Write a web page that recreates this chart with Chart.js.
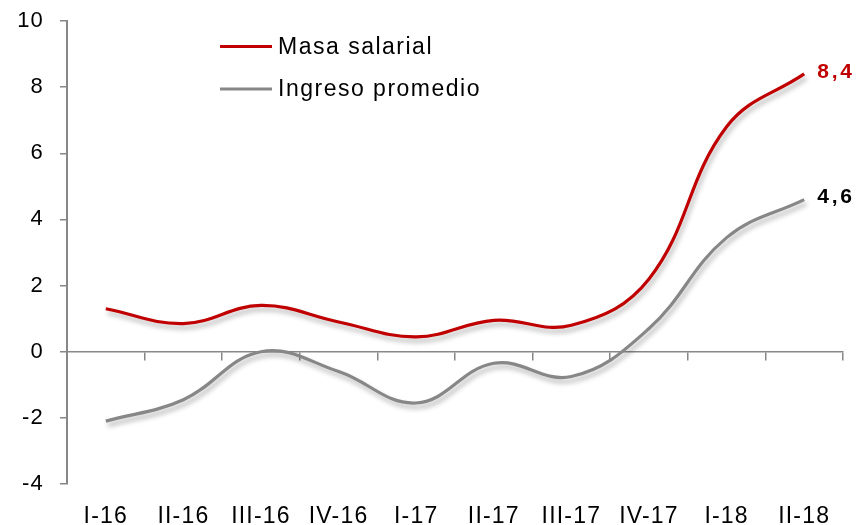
<!DOCTYPE html>
<html>
<head>
<meta charset="utf-8">
<script src="https://cdn.jsdelivr.net/npm/chart.js@4"></script>
<style>
  html, body { margin: 0; padding: 0; background: #fff; }
  #wrap { width: 859px; height: 525px; }
</style>
</head>
<body>
<div id="wrap"><canvas id="chart"></canvas></div>
<script>
const quarters = ['I-16', 'II-16', 'III-16', 'IV-16', 'I-17', 'II-17', 'III-17', 'IV-17', 'I-18', 'II-18'];
const masaSalarial = [1.3, 0.85, 1.4, 0.9, 0.45, 0.95, 0.8, 2.2, 6.8, 8.4];
const ingresoPromedio = [-2.1, -1.45, 0.0, -0.6, -1.55, -0.35, -0.75, 0.7, 3.45, 4.6];
const yTicks = [-4, -2, 0, 2, 4, 6, 8, 10];

const FONT = '"Liberation Sans", Arial, sans-serif';
const AXIS_GREY = '#878787';

// Excel text is a bit spread out, so widen the letters for the axis labels
const spacing = {
  id: 'spacing',
  beforeUpdate(chart) { chart.ctx.letterSpacing = '1.2px'; },
  beforeDraw(chart) { chart.ctx.letterSpacing = '1.2px'; }
};

// soft drop shadow under each line, like the Excel original
const shadowPlugin = {
  id: 'lineShadow',
  beforeDatasetDraw(chart) {
    const ctx = chart.ctx;
    ctx.save();
    ctx.shadowColor = 'rgba(0,0,0,0.3)';
    ctx.shadowBlur = 5;
    ctx.shadowOffsetX = 2;
    ctx.shadowOffsetY = 4;
  },
  afterDatasetDraw(chart) {
    chart.ctx.restore();
  }
};

// legend drawn inside the plot, top left
const innerLegend = {
  id: 'innerLegend',
  afterDraw(chart) {
    const ctx = chart.ctx;
    ctx.save();
    ctx.font = '23px ' + FONT;
    ctx.letterSpacing = '1.5px';
    ctx.textBaseline = 'middle';
    chart.data.datasets.forEach((ds, i) => {
      const y = 46.5 + i * 42.5;
      ctx.strokeStyle = ds.borderColor;
      ctx.lineWidth = 3;
      ctx.beginPath();
      ctx.moveTo(220, y);
      ctx.lineTo(272, y);
      ctx.stroke();
      ctx.fillStyle = '#000';
      ctx.fillText(ds.label, 278, y + 1);
    });
    ctx.restore();
  }
};

// value label next to the last point of each series
const lastValue = {
  id: 'lastValue',
  afterDatasetsDraw(chart) {
    const ctx = chart.ctx;
    ctx.save();
    ctx.font = 'bold 21px ' + FONT;
    ctx.letterSpacing = '2.8px';
    ctx.textBaseline = 'middle';
    chart.data.datasets.forEach((ds, i) => {
      const meta = chart.getDatasetMeta(i);
      const pt = meta.data[meta.data.length - 1];
      const v = ds.data[ds.data.length - 1];
      ctx.fillStyle = ds.labelColor;
      ctx.fillText(v.toFixed(1).replace('.', ','), pt.x + 13, pt.y - 2);
    });
    ctx.restore();
  }
};

new Chart(document.getElementById('chart'), {
  type: 'line',
  data: {
    labels: quarters,
    datasets: [
      {
        label: 'Masa salarial',
        data: masaSalarial,
        borderColor: '#C00000',
        labelColor: '#C00000',
        borderWidth: 3.2,
        pointRadius: 0,
        tension: 0.4,
        xAxisID: 'x'
      },
      {
        label: 'Ingreso promedio',
        data: ingresoPromedio,
        borderColor: '#878787',
        labelColor: '#000000',
        borderWidth: 3.2,
        pointRadius: 0,
        tension: 0.4,
        xAxisID: 'x'
      }
    ]
  },
  options: {
    responsive: true,
    maintainAspectRatio: false,
    animation: false,
    layout: { padding: { top: 21, right: 16, left: 0, bottom: 0 } },
    plugins: { legend: { display: false }, tooltip: { enabled: false } },
    scales: {
      // axis line through zero with tick marks between quarters
      x: {
        type: 'category',
        position: { y: 0 },
        offset: true,
        ticks: { display: false },
        grid: { offset: true, drawOnChartArea: false, drawTicks: true, tickLength: 8, color: AXIS_GREY, lineWidth: 1.5 },
        border: { display: true, color: AXIS_GREY, width: 1.5 }
      },
      // quarter labels along the bottom
      xb: {
        type: 'category',
        position: 'bottom',
        offset: true,
        grid: { display: false, drawTicks: false },
        border: { display: false },
        ticks: { color: '#000', font: { family: FONT, size: 23 }, padding: 19, maxRotation: 0, autoSkip: false },
        afterFit(scale) { scale.height = 41; }
      },
      y: {
        min: -4,
        max: 10,
        afterBuildTicks(scale) { scale.ticks = yTicks.map(v => ({ value: v })); },
        grid: { drawOnChartArea: false, drawTicks: true, tickLength: 7, color: AXIS_GREY, lineWidth: 1.5 },
        border: { display: true, color: AXIS_GREY, width: 2 },
        ticks: { color: '#000', font: { family: FONT, size: 22 }, padding: 16 },
        afterFit(scale) {
          scale.width = 67;
          scale.paddingTop = 0;
          scale.paddingBottom = 0;
        }
      }
    }
  },
  plugins: [spacing, shadowPlugin, innerLegend, lastValue]
});
</script>
</body>
</html>
